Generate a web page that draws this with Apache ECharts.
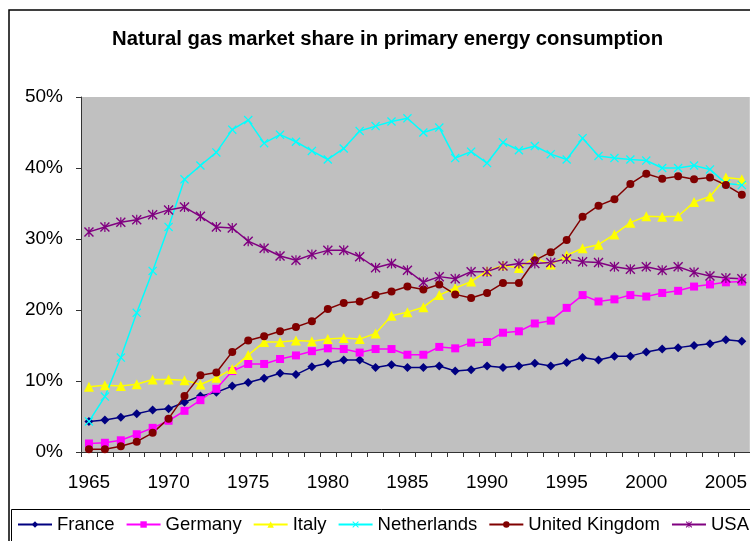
<!DOCTYPE html>
<html>
<head>
<meta charset="utf-8">
<script src="https://cdn.jsdelivr.net/npm/echarts@6/dist/echarts.min.js"></script>
<style>
html,body{margin:0;padding:0;background:#fff;}
#chart{width:750px;height:541px;}
</style>
</head>
<body>
<div id="chart"></div>
<script>
var years = [];
for (var y = 1965; y <= 2006; y++) years.push(String(y));

var france = [4.3, 4.5, 4.9, 5.4, 5.9, 6.1, 7.0, 7.9, 8.4, 9.3,
  9.8, 10.4, 11.1, 10.9, 12.0, 12.5, 12.95, 12.95, 11.9, 12.3,
  11.9, 11.9, 12.1, 11.4, 11.6, 12.1, 11.9, 12.1, 12.5, 12.1,
  12.6, 13.3, 12.95, 13.5, 13.5, 14.1, 14.5, 14.7, 15.0, 15.25,
  15.8, 15.6];
var germany = [1.2, 1.3, 1.65, 2.5, 3.4, 4.4, 5.8, 7.3, 8.9, 11.4,
  12.4, 12.4, 13.1, 13.6, 14.2, 14.6, 14.5, 14.0, 14.5, 14.5,
  13.7, 13.7, 14.8, 14.6, 15.4, 15.5, 16.8, 17.0, 18.1, 18.5,
  20.3, 22.1, 21.2, 21.5, 22.1, 21.9, 22.4, 22.7, 23.3, 23.6,
  23.9, 24.0];
var italy = [9.2, 9.4, 9.3, 9.55, 10.2, 10.2, 10.1, 9.5, 10.45, 11.7,
  13.65, 15.5, 15.5, 15.7, 15.6, 15.9, 16.05, 15.9, 16.7, 19.2,
  19.7, 20.4, 22.1, 23.1, 24.0, 25.5, 26.3, 25.9, 27.4, 26.4,
  27.7, 28.7, 29.2, 30.65, 32.3, 33.2, 33.15, 33.2, 35.2, 36.0,
  38.65, 38.4];
var netherlands = [4.3, 7.8, 13.3, 19.6, 25.5, 31.7, 38.4, 40.35, 42.2, 45.4,
  46.75, 43.5, 44.7, 43.7, 42.4, 41.2, 42.75, 45.2, 45.9, 46.55,
  47.0, 45.0, 45.7, 41.4, 42.3, 40.7, 43.6, 42.5, 43.1, 41.95,
  41.2, 44.2, 41.7, 41.4, 41.2, 41.05, 40.0, 40.0, 40.35, 39.8,
  37.8, 37.6];
var uk = [0.4, 0.4, 0.8, 1.45, 2.7, 4.7, 7.9, 10.8, 11.2, 14.1,
  15.7, 16.3, 17.0, 17.6, 18.4, 20.15, 21.0, 21.2, 22.1, 22.6,
  23.3, 22.9, 23.6, 22.2, 21.7, 22.4, 23.8, 23.8, 27.0, 28.15,
  29.85, 33.15, 34.7, 35.6, 37.75, 39.2, 38.5, 38.85, 38.4, 38.65,
  37.6, 36.25];
var usa = [31.0, 31.7, 32.35, 32.7, 33.4, 34.1, 34.5, 33.2, 31.7, 31.55,
  29.7, 28.7, 27.6, 27.0, 27.8, 28.4, 28.4, 27.5, 25.95, 26.55,
  25.6, 23.9, 24.7, 24.4, 25.4, 25.4, 26.2, 26.55, 26.55, 26.7,
  27.2, 26.8, 26.7, 26.1, 25.75, 26.1, 25.6, 26.1, 25.3, 24.8,
  24.5, 24.4];

var seriesNames = ['France', 'Germany', 'Italy', 'Netherlands', 'United Kingdom', 'USA'];
var yTicks = [0, 10, 20, 30, 40, 50];
var titleText = 'Natural gas market share in primary energy consumption';

var FONT = '"Liberation Sans", Arial, sans-serif';
var xSym = 'path://M0,1L1,0L5,4L9,0L10,1L6,5L10,9L9,10L5,6L1,10L0,9L4,5Z';
var starSym = 'path://M0,1L1,0L5,4L9,0L10,1L6,5L10,9L9,10L5,6L1,10L0,9L4,5Z M4.4,0L5.6,0L5.6,10L4.4,10Z';

function mk(name, data, color, symbol, size) {
  return {
    name: name, type: 'line', data: data,
    symbol: symbol, symbolSize: size,
    lineStyle: { color: color, width: 1.5 },
    itemStyle: { color: color },
    emphasis: { disabled: true }
  };
}

var chart = echarts.init(document.getElementById('chart'), null, { renderer: 'canvas' });
chart.setOption({
  animation: false,
  backgroundColor: '#ffffff',
  title: {
    text: titleText, left: 112, top: 29, padding: 0,
    textStyle: { fontFamily: FONT, fontSize: 20.3, fontWeight: 'bold', color: '#000' }
  },
  graphic: [
    { type: 'rect', shape: { x: 9, y: 10, width: 800, height: 600 },
      style: { fill: 'none', stroke: '#000', lineWidth: 1.5 }, z: 100 },
    { type: 'rect', shape: { x: 11.5, y: 509.5, width: 800, height: 100 },
      style: { fill: 'none', stroke: '#000', lineWidth: 1 }, z: 100 }
  ],
  legend: {
    left: 17, top: 515, width: 1000, padding: 0,
    itemWidth: 34, itemHeight: 8, itemGap: 11,
    textStyle: { fontFamily: FONT, fontSize: 18.5, color: '#000' },
    data: seriesNames
  },
  grid: {
    left: 81, top: 97, width: 672, height: 355,
    show: true, backgroundColor: '#C0C0C0', borderWidth: 0
  },
  xAxis: {
    type: 'category', data: years, boundaryGap: true,
    axisLine: { lineStyle: { color: '#333', width: 1 } },
    axisTick: { show: true, interval: 0, length: 5, inside: false, lineStyle: { color: '#333' } },
    axisLabel: { interval: 4, margin: 21, fontFamily: FONT, fontSize: 19, color: '#000' },
    splitLine: { show: false }
  },
  yAxis: {
    type: 'value', min: yTicks[0], max: yTicks[yTicks.length - 1], interval: 10,
    axisLine: { show: true, lineStyle: { color: '#333', width: 1 } },
    axisTick: { show: true, length: 5, lineStyle: { color: '#333' } },
    axisLabel: { formatter: '{value}%', margin: 18, fontFamily: FONT, fontSize: 19, color: '#000' },
    splitLine: { show: false }
  },
  series: [
    mk(seriesNames[0], france, '#000080', 'diamond', 9),
    mk(seriesNames[1], germany, '#FF00FF', 'rect', 8),
    mk(seriesNames[2], italy, '#FFFF00', 'triangle', 10),
    mk(seriesNames[3], netherlands, '#00FFFF', xSym, 9),
    mk(seriesNames[4], uk, '#800000', 'circle', 8),
    mk(seriesNames[5], usa, '#800080', starSym, 10)
  ]
});
</script>
</body>
</html>
